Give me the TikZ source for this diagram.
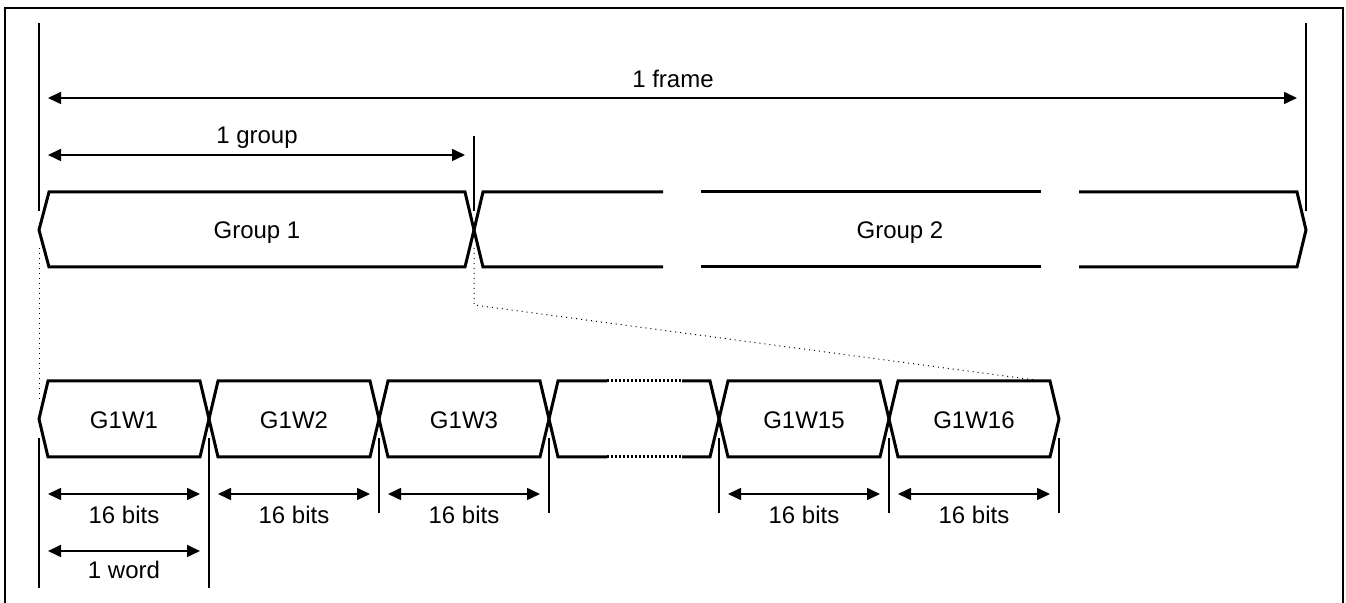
\documentclass[tikz,border=0pt]{standalone}
\usepackage{fontspec}
\setmainfont{Liberation Sans}
\usetikzlibrary{arrows.meta, positioning, calc}

\begin{document}
\begin{tikzpicture}[x=0.5pt, y=-0.5pt,
    font=\fontsize{12}{14}\selectfont,
    bus/.style={line width=1.5pt, line join=miter},
    tick/.style={line width=0.6pt},
    dim/.style={line width=0.8pt, {Triangle[length=6.5pt,width=6pt]}-{Triangle[length=6.5pt,width=6pt]}, shorten <=4.5pt, shorten >=4.5pt},
    zoomline/.style={line width=0.5pt, dotted}]
    \useasboundingbox (0,0) rectangle (1346,603);

    % outer frame
    \draw[line width=1pt] (5,606) |- (1343,8) -- (1343,606);

    % ticks of the frame
    \coordinate (fL) at (39,98);
    \coordinate (fR) at (1306,98);
    \coordinate (gM) at (474,155);
    \coordinate (gL) at (39,155);
    \draw[tick] (39,23) -- (39,211);
    \draw[tick] (1306,23) -- (1306,211);
    \draw[tick] (474,136) -- (474,211);

    \draw[dim] (fL) -- (fR);
    \node (frameLbl) at (673,79) {1 frame};
    \draw[dim] (gL) -- (gM);
    \node (groupLbl) at (257,138) {1 group};

    % group bar
    \draw[bus] (39,230) -- (49,192) -- (465,192) -- (474,230) -- (465,267) -- (49,267) -- cycle;
    \draw[bus] (663,192) -- (483,192) -- (474,230) -- (483,267) -- (663,267);
    \draw[bus] (701,192) -- (1041,192);
    \draw[bus] (701,267) -- (1041,267);
    \draw[bus] (1079,192) -- (1297,192) -- (1306,230) -- (1297,267) -- (1079,267);
    \node (grp1) at (257,233) {Group 1};
    \node (grp2) at (900,233) {Group 2};

    % zoom lines
    \draw[zoomline] (39,248) -- (39,400);
    \draw[zoomline] (474,248) -- (474,305) -- (1035,380);

    % words of group 1
    \foreach \k/\txt in {0/G1W1,1/G1W2,2/G1W3,4/G1W15,5/G1W16} {
        \pgfmathsetmacro\xa{39+170*\k}
        \draw[bus] (\xa,419) -- ++(9,-38) -- ++(152,0) -- ++(9,38) -- ++(-9,38) -- ++(-152,0) -- cycle;
        \node (w\k) at (\xa+85,420) {\txt};
    }
    % skipped words
    \draw[bus] (607,381) -- (558,381) -- (549,419) -- (558,457) -- (607,457);
    \draw[bus] (682,381) -- (710,381) -- (719,419) -- (710,457) -- (682,457);
    \draw[line width=1.5pt, dash pattern=on 1pt off 1pt] (607,381) -- (682,381);
    \draw[line width=1.5pt, dash pattern=on 1pt off 1pt] (607,457) -- (682,457);

    % bit ticks
    \foreach \k in {0,...,6} {
        \coordinate (t\k) at (39+170*\k,494);
    }
    \draw[tick] (39,438) -- (39,588);
    \draw[tick] (209,438) -- (209,588);
    \foreach \k in {2,...,6} {
        \draw[tick] (39+170*\k,438) -- (39+170*\k,513);
    }

    \foreach \k/\j in {0/1,1/2,2/3,4/5,5/6} {
        \draw[dim] (t\k) -- (t\j);
        \node (b\k) at ($(t\k)!0.5!(t\j)+(0,21)$) {16 bits};
    }
    \coordinate (wL) at (39,551);
    \coordinate (wR) at (209,551);
    \draw[dim] (wL) -- (wR);
    \node (wordLbl) at (124,570) {1 word};
\end{tikzpicture}
\end{document}
